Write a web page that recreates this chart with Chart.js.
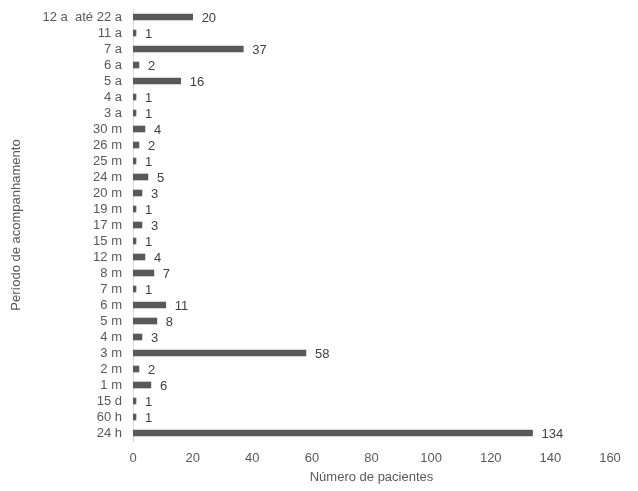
<!DOCTYPE html>
<html>
<head>
<meta charset="utf-8">
<script src="https://cdn.jsdelivr.net/npm/chart.js@4/dist/chart.umd.min.js"></script>
<style>
  html, body { margin: 0; padding: 0; background: #fff; }
  #wrap { width: 638px; height: 491px; }
</style>
</head>
<body>
<div id="wrap"><canvas id="chart" width="638" height="491"></canvas></div>
<script>
// periods, top to bottom as in the figure
const periodos = ['12 a  até 22 a', '11 a', '7 a', '6 a', '5 a', '4 a', '3 a', '30 m', '26 m', '25 m',
  '24 m', '20 m', '19 m', '17 m', '15 m', '12 m', '8 m', '7 m', '6 m', '5 m', '4 m', '3 m',
  '2 m', '1 m', '15 d', '60 h', '24 h'];
const pacientes = [20, 1, 37, 2, 16, 1, 1, 4, 2, 1, 5, 3, 1, 3, 1, 4, 7, 1, 11, 8, 3, 58, 2, 6, 1, 1, 134];
const xMax = 160;
const xStep = 20;

const fonte = '"Liberation Sans", Arial, sans-serif';

// write the value to the right of each bar
const valueLabels = {
  id: 'valueLabels',
  afterDatasetsDraw(chart) {
    const c = chart.ctx;
    const meta = chart.getDatasetMeta(0);
    c.save();
    c.font = '13px ' + fonte;
    c.fillStyle = '#404040';
    c.textAlign = 'left';
    c.textBaseline = 'middle';
    meta.data.forEach((bar, i) => {
      c.fillText(String(pacientes[i]), bar.x + 9, bar.y + 1);
    });
    c.restore();
  }
};

const ctx = document.getElementById('chart').getContext('2d');
const chart = new Chart(ctx, {
  type: 'bar',
  data: {
    labels: periodos,
    datasets: [{
      data: pacientes,
      backgroundColor: '#595959',
      barThickness: 6
    }]
  },
  options: {
    indexAxis: 'y',
    responsive: false,
    animation: false,
    layout: { padding: { top: 9, right: 28, bottom: 0, left: 0 } },
    plugins: { legend: { display: false }, tooltip: { enabled: false } },
    scales: {
      x: {
        min: 0,
        max: xMax,
        grid: { display: false, drawTicks: false },
        border: { display: false },
        afterFit(scale) { scale.height = 50; },
        ticks: {
          stepSize: xStep,
          padding: 10,
          color: '#595959',
          font: { family: fonte, size: 13 }
        },
        title: {
          display: true,
          text: 'Número de pacientes',
          color: '#595959',
          padding: { top: 0, bottom: 6 },
          font: { family: fonte, size: 13 }
        }
      },
      y: {
        grid: { drawOnChartArea: false, drawTicks: false },
        border: { display: true, color: '#d9d9d9', width: 1 },
        afterFit(scale) {
          scale.width = 133;
          scale.paddingTop = 0;
          scale.paddingBottom = 0;
        },
        ticks: {
          autoSkip: false,
          padding: 11,
          color: '#595959',
          font: { family: fonte, size: 13 }
        },
        title: {
          display: true,
          text: 'Período de acompanhamento',
          color: '#595959',
          padding: { top: 9, bottom: 0 },
          font: { family: fonte, size: 13 }
        }
      }
    }
  },
  plugins: [valueLabels]
});
</script>
</body>
</html>
